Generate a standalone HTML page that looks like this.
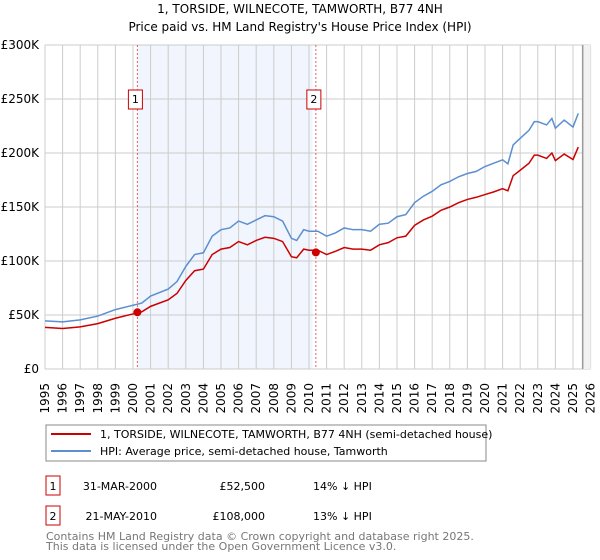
<!DOCTYPE html>
<html><head><meta charset="utf-8"><style>
body{margin:0;background:#fff;font-family:"DejaVu Sans","Liberation Sans",sans-serif;}
svg{display:block}
</style></head><body>
<svg id="c" width="600" height="560" font-family="DejaVu Sans, Liberation Sans, sans-serif">
<text x="300" y="13" text-anchor="middle" font-size="12">1, TORSIDE, WILNECOTE, TAMWORTH, B77 4NH</text>
<text x="300" y="31" text-anchor="middle" font-size="12">Price paid vs. HM Land Registry's House Price Index (HPI)</text>
<g id="plot"></g>
<g>
<rect x="46" y="425" width="440" height="36" fill="#fff" stroke="#888"/>
<line x1="51" y1="434" x2="91" y2="434" stroke="#cc0000" stroke-width="2"/>
<text x="100" y="438" font-size="11">1, TORSIDE, WILNECOTE, TAMWORTH, B77 4NH (semi-detached house)</text>
<line x1="51" y1="451" x2="91" y2="451" stroke="#5b8fd0" stroke-width="2"/>
<text x="100" y="455" font-size="11">HPI: Average price, semi-detached house, Tamworth</text>
</g>
<g font-size="11">
<rect x="46" y="476" width="14" height="19" fill="#fff" stroke="#cc0000"/>
<text x="53" y="490" text-anchor="middle">1</text>
<text x="157" y="490" text-anchor="end">31-MAR-2000</text>
<text x="265" y="490" text-anchor="end">£52,500</text>
<text x="313" y="490">14% ↓ HPI</text>
<rect x="46" y="506" width="14" height="19" fill="#fff" stroke="#cc0000"/>
<text x="53" y="520" text-anchor="middle">2</text>
<text x="157" y="520" text-anchor="end">21-MAY-2010</text>
<text x="265" y="520" text-anchor="end">£108,000</text>
<text x="313" y="520">13% ↓ HPI</text>
</g>
<text x="46" y="540" font-size="11" fill="#777">Contains HM Land Registry data © Crown copyright and database right 2025.</text>
<text x="46" y="550" font-size="11" fill="#777">This data is licensed under the Open Government Licence v3.0.</text>
</svg>
<script>
const yearTicks=[1995,1996,1997,1998,1999,2000,2001,2002,2003,2004,2005,2006,2007,2008,2009,2010,2011,2012,2013,2014,2015,2016,2017,2018,2019,2020,2021,2022,2023,2024,2025,2026];
const valueTicks=[0,50000,100000,150000,200000,250000,300000];
const valueLabels=["£0","£50K","£100K","£150K","£200K","£250K","£300K"];
const hpiYears=[1995,1996,1997,1998,1999,2000,2000.5,2001,2002,2002.5,2003,2003.5,2004,2004.5,2005,2005.5,2006,2006.5,2007,2007.5,2008,2008.5,2009,2009.3,2009.7,2010,2010.5,2011,2011.5,2012,2012.5,2013,2013.5,2014,2014.5,2015,2015.5,2016,2016.5,2017,2017.5,2018,2018.5,2019,2019.5,2020,2020.5,2021,2021.3,2021.6,2022,2022.5,2022.8,2023,2023.5,2023.8,2024,2024.5,2025,2025.3];
const hpiValues=[44600,43600,45500,49000,55000,59000,61000,67600,74000,81000,95000,106000,107600,123000,129000,130600,137000,134000,138000,142000,141000,137000,121000,119000,129000,127600,127600,123000,126000,130600,129000,129000,127600,134000,135000,141000,143000,154000,160000,164500,170600,173700,178000,181000,183000,187500,190600,193700,190000,207500,213600,221000,229000,229000,226000,232000,223000,230500,224000,236700];
const priceValues=[38500,37500,39000,42000,47000,51000,53000,58000,64000,70000,82000,91000,92500,106000,111000,112500,118000,115000,119000,122000,121000,118000,104000,103000,111000,110000,110000,106000,109000,112500,111000,111000,110000,115000,117000,121500,123000,133000,138000,141500,147000,150000,154000,157000,159000,161500,164000,167000,165000,179000,184000,190500,198000,198000,195000,200000,193000,199000,194000,205500];
const saleYears=[2000.25,2010.39];
const saleValues=[52500,108000];
const saleLabels=["1","2"];
const NS="http://www.w3.org/2000/svg";
const X0=45,X1=590.6,Y0=369,Y1=45;
function xs(y){return X0+(y-1995)/(2026-1995)*(X1-X0);}
function ys(v){return Y0-(v/300000)*(Y0-Y1);}
const g=document.getElementById('plot');
function mk(t,a){const e=document.createElementNS(NS,t);for(const k in a)e.setAttribute(k,a[k]);g.appendChild(e);return e;}
let e;
e=mk('rect',{x:xs(saleYears[0]),y:Y1,width:xs(2010.2)-xs(saleYears[0]),height:Y0-Y1,fill:'#eef3fc',opacity:0.8});


yearTicks.forEach(yr=>{
 e=mk('line',{x1:xs(yr),x2:xs(yr),y1:Y1,y2:Y0,stroke:'#ccc','stroke-width':1});
 
 
 e=mk('text',{x:0,y:0,'font-size':12,'text-anchor':'end',transform:`translate(${xs(yr)+4},${383}) rotate(-90)`});
 e.textContent=yr;
 
 
});
valueTicks.forEach((v,i)=>{
 e=mk('line',{x1:X0,x2:X1,y1:ys(v),y2:ys(v),stroke:'#ccc','stroke-width':1});
 
 
 e=mk('text',{x:X0-6,y:ys(v)+4,'font-size':12,'text-anchor':'end'});
 e.textContent=valueLabels[i];
 
 
});
const hx=xs(2025.55);
e=mk('rect',{x:hx,y:Y1,width:X1-hx,height:Y0-Y1,fill:'#f2f2f2'});


e=mk('line',{x1:hx,x2:hx,y1:Y1,y2:Y0,stroke:'#999','stroke-width':1.5});


saleYears.forEach((yr,i)=>{
 e=mk('line',{x1:xs(yr),x2:xs(yr),y1:Y1,y2:Y0,stroke:'#e06060','stroke-width':1,'stroke-dasharray':'2,2'});
 
 
});
e=mk('path',{d:'M'+hpiYears.map((y,i)=>xs(y)+','+ys(hpiValues[i])).join('L'),fill:'none',stroke:'#5b8fd0','stroke-width':1.5});


e=mk('path',{d:'M'+hpiYears.map((y,i)=>xs(y)+','+ys(priceValues[i])).join('L'),fill:'none',stroke:'#cc0000','stroke-width':1.5});


saleYears.forEach((yr,i)=>{
 e=mk('circle',{cx:xs(yr),cy:ys(saleValues[i]),r:4,fill:'#cc0000'});
 
 
 const bx=xs(yr)-9;
 e=mk('rect',{x:bx,y:90,width:14,height:19,fill:'#fff',stroke:'#cc0000'});
 
 
 e=mk('text',{x:bx+7,y:103,'font-size':11,'text-anchor':'middle'});
 e.textContent=saleLabels[i];
 
 
});
</script>
</body></html>
